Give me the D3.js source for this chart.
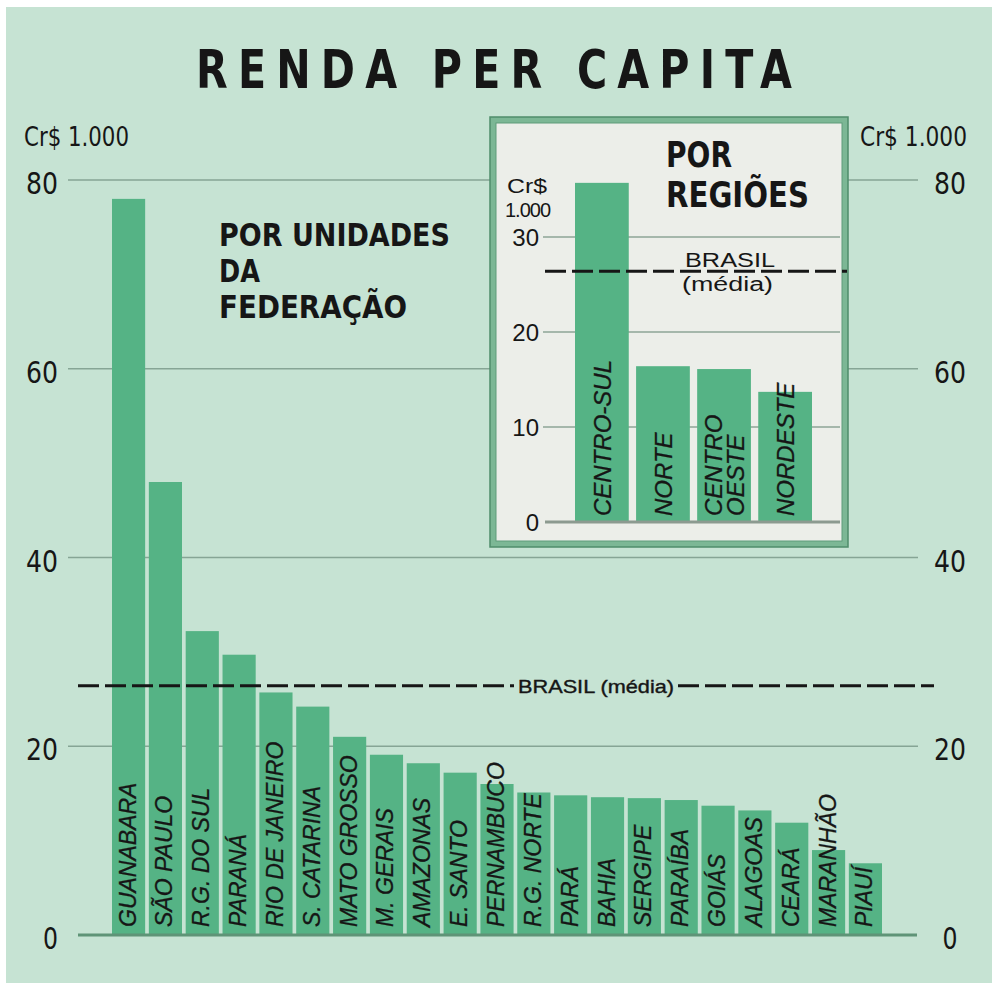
<!DOCTYPE html>
<html>
<head>
<meta charset="utf-8">
<script src="https://cdnjs.cloudflare.com/ajax/libs/d3/7.8.5/d3.min.js"></script>
<style>
  body { margin: 0; background: #ffffff; }
  svg { display: block; }
  .cond { font-family: "DejaVu Sans Condensed", "DejaVu Sans", sans-serif; font-stretch: condensed; }
</style>
</head>
<body>
<script>

// dados por unidades da federacao (Cr$ 1.000)
var states = ["GUANABARA", "SÃO PAULO", "R.G. DO SUL", "PARANÁ", "RIO DE JANEIRO",
              "S. CATARINA", "MATO GROSSO", "M. GERAIS", "AMAZONAS", "E. SANTO",
              "PERNAMBUCO", "R.G. NORTE", "PARÁ", "BAHIA", "SERGIPE", "PARAÍBA",
              "GOIÁS", "ALAGOAS", "CEARÁ", "MARANHÃO", "PIAUÍ"];
var stateValues = [78, 48, 32.2, 29.7, 25.7, 24.2, 21.0, 19.1, 18.2, 17.2,
                   16.0, 15.1, 14.8, 14.6, 14.5, 14.3, 13.7, 13.2, 11.9, 9.0, 7.6];

// dados por regioes
var regions = ["CENTRO-SUL", "NORTE", "CENTRO OESTE", "NORDESTE"];
var regionValues = [35.7, 16.4, 16.1, 13.7];

var brasilMedia = 26.4;

var mainTicks = [0, 20, 40, 60, 80];
var insetTicks = [0, 10, 20, 30];

var width = 992, height = 983;
var bg = "#c6e3d3", barColor = "#55b385", ink = "#161616";

var svg = d3.select("body").append("svg")
    .attr("width", width)
    .attr("height", height);

// paper
svg.append("rect").attr("x", 0).attr("y", 0).attr("width", width).attr("height", height).attr("fill", "#fff");
svg.append("rect").attr("x", 6).attr("y", 7).attr("width", width - 6).attr("height", height - 7).attr("fill", bg);

var x = d3.scaleBand().domain(states).range([112, 882]).paddingInner(0.1);
var y = d3.scaleLinear().domain([0, 80]).range([935, 180]);

// gridlines
svg.append("g").selectAll("line")
    .data(mainTicks.filter(function(d){ return d > 0; }))
    .enter().append("line")
    .attr("x1", 68).attr("x2", 918)
    .attr("y1", function(d){ return y(d); })
    .attr("y2", function(d){ return y(d); })
    .attr("stroke", "#86a595")
    .attr("stroke-width", 1.5);

// left and right tick labels
function tickLabels(xpos, anchor) {
    svg.append("g").selectAll("text")
        .data(mainTicks)
        .enter().append("text")
        .attr("class", "cond")
        .attr("x", xpos).attr("y", function(d){ return y(d) + 14; })
        .attr("text-anchor", anchor)
        .attr("font-size", 31)
        .attr("textLength", function(d){ return d < 10 ? 15 : 32; })
        .attr("lengthAdjust", "spacingAndGlyphs")
        .attr("fill", ink)
        .text(function(d){ return d; });
}
tickLabels(58, "end");
tickLabels(950, "middle");

svg.append("text").attr("class", "cond").attr("x", 24).attr("y", 146)
    .attr("font-size", 27)
    .attr("fill", ink).attr("textLength", 105).attr("lengthAdjust", "spacingAndGlyphs")
    .text("Cr$ 1.000");
svg.append("text").attr("class", "cond").attr("x", 860).attr("y", 146)
    .attr("font-size", 27)
    .attr("fill", ink).attr("textLength", 107).attr("lengthAdjust", "spacingAndGlyphs")
    .text("Cr$ 1.000");

// bars
svg.append("g").selectAll("rect")
    .data(states)
    .enter().append("rect")
    .attr("x", function(d){ return x(d); })
    .attr("y", function(d, i){ return y(stateValues[i]); })
    .attr("width", x.bandwidth())
    .attr("height", function(d, i){ return y(0) - y(stateValues[i]); })
    .attr("fill", barColor);

// baseline
svg.append("line")
    .attr("x1", 78).attr("x2", 917)
    .attr("y1", y(0)).attr("y2", y(0))
    .attr("stroke", "#5f9477").attr("stroke-width", 3);

// bar labels
svg.append("g").selectAll("text")
    .data(states)
    .enter().append("text")
    .attr("transform", function(d){
        return "translate(" + (x(d) + x.bandwidth() / 2 + 7) + "," + (y(0) - 8) + ") rotate(-90)";
    })
    .attr("font-family", "Liberation Sans")
    .attr("font-style", "italic")
    .attr("font-size", 23)
    .attr("stroke", ink).attr("stroke-width", 0.3)
    .attr("fill", ink)
    .text(function(d){ return d; });

// brasil media line (main)
svg.append("text")
    .attr("x", 518).attr("y", y(brasilMedia) + 7)
    .attr("font-family", "Liberation Sans")
    .attr("font-size", 19)
    .attr("stroke", ink).attr("stroke-width", 0.4)
    .attr("fill", ink)
    .attr("textLength", 156).attr("lengthAdjust", "spacingAndGlyphs")
    .text("BRASIL (média)");

svg.append("line")
    .attr("x1", 78).attr("x2", 514)
    .attr("y1", y(brasilMedia)).attr("y2", y(brasilMedia))
    .attr("stroke", ink).attr("stroke-width", 3).attr("stroke-dasharray", "21,6");
svg.append("line")
    .attr("x1", 678).attr("x2", 934)
    .attr("y1", y(brasilMedia)).attr("y2", y(brasilMedia))
    .attr("stroke", ink).attr("stroke-width", 3).attr("stroke-dasharray", "21,6");

// titles
svg.append("text").attr("class", "cond").attr("x", 196).attr("y", 88)
    .attr("font-weight", "bold")
    .attr("font-size", 54).attr("fill", ink)
    .attr("letter-spacing", 12)
    .attr("textLength", 606).attr("lengthAdjust", "spacingAndGlyphs")
    .text("RENDA PER CAPITA");

var fedLines = ["POR UNIDADES", "DA", "FEDERAÇÃO"];
var fedWidths = [231, 41, 188];
svg.append("g").selectAll("text")
    .data(fedLines)
    .enter().append("text")
    .attr("class", "cond")
    .attr("x", 219)
    .attr("y", function(d, i){ return 246 + i * 36; })
    .attr("font-weight", "bold")
    .attr("font-size", 32)
    .attr("textLength", function(d, i){ return fedWidths[i]; })
    .attr("lengthAdjust", "spacingAndGlyphs")
    .attr("fill", ink)
    .text(function(d){ return d; });

// ---- inset: por regioes ----
var inset = svg.append("g");
inset.append("rect")
    .attr("x", 493).attr("y", 120).attr("width", 352).attr("height", 424)
    .attr("fill", "#eceee9")
    .attr("stroke", "#7cb795").attr("stroke-width", 6);
inset.append("rect")
    .attr("x", 490).attr("y", 117).attr("width", 358).attr("height", 430)
    .attr("fill", "none")
    .attr("stroke", "#4f8d6b").attr("stroke-width", 1.5);
inset.append("rect")
    .attr("x", 496).attr("y", 123).attr("width", 346).attr("height", 418)
    .attr("fill", "none")
    .attr("stroke", "#5f9c7a").attr("stroke-width", 1);

var xr = d3.scaleBand().domain(regions).range([575, 812]).paddingInner(0.12);
var yr = d3.scaleLinear().domain([0, 30]).range([522, 237]);

inset.append("g").selectAll("line")
    .data(insetTicks.filter(function(d){ return d > 0; }))
    .enter().append("line")
    .attr("x1", 543).attr("x2", 840)
    .attr("y1", function(d){ return yr(d); })
    .attr("y2", function(d){ return yr(d); })
    .attr("stroke", "#8ea596").attr("stroke-width", 1.5);

inset.append("g").selectAll("text")
    .data(insetTicks)
    .enter().append("text")
    .attr("x", 539).attr("y", function(d){ return yr(d) + 9; })
    .attr("text-anchor", "end")
    .attr("font-family", "Liberation Sans")
    .attr("font-size", 24)
    .attr("fill", ink)
    .text(function(d){ return d; });

inset.append("text").attr("x", 507).attr("y", 193)
    .attr("font-family", "Liberation Sans").attr("font-size", 20).attr("fill", ink)
    .attr("textLength", 40).attr("lengthAdjust", "spacingAndGlyphs")
    .text("Cr$");
inset.append("text").attr("x", 505).attr("y", 217)
    .attr("font-family", "Liberation Sans").attr("font-size", 20).attr("fill", ink)
    .attr("letter-spacing", -1)
    .text("1.000");

inset.append("g").selectAll("rect")
    .data(regions)
    .enter().append("rect")
    .attr("x", function(d){ return xr(d); })
    .attr("y", function(d, i){ return yr(regionValues[i]); })
    .attr("width", xr.bandwidth())
    .attr("height", function(d, i){ return yr(0) - yr(regionValues[i]); })
    .attr("fill", barColor);

inset.append("line")
    .attr("x1", 545).attr("x2", 840)
    .attr("y1", yr(0)).attr("y2", yr(0))
    .attr("stroke", "#8c9a90").attr("stroke-width", 3);

// region labels, CENTRO OESTE on two columns
regions.forEach(function(d){
    var parts = d.split(" ");
    var cx = xr(d) + xr.bandwidth() / 2;
    parts.forEach(function(p, j){
        var off = parts.length > 1 ? (j === 0 ? -2 : 20) : 9;
        inset.append("text")
            .attr("transform", "translate(" + (cx + off) + "," + (yr(0) - 6) + ") rotate(-90)")
            .attr("font-family", "Liberation Sans")
            .attr("font-style", "italic")
            .attr("font-size", 24)
            .attr("stroke", ink).attr("stroke-width", 0.3)
            .attr("fill", ink)
            .text(p);
    });
});

inset.append("line")
    .attr("x1", 545).attr("x2", 847)
    .attr("y1", yr(brasilMedia)).attr("y2", yr(brasilMedia))
    .attr("stroke", ink).attr("stroke-width", 3).attr("stroke-dasharray", "21,6");
inset.append("text").attr("x", 685).attr("y", yr(brasilMedia) - 4)
    .attr("font-family", "Liberation Sans").attr("font-size", 20).attr("fill", ink)
    .attr("textLength", 90).attr("lengthAdjust", "spacingAndGlyphs")
    .text("BRASIL");
inset.append("text").attr("x", 682).attr("y", yr(brasilMedia) + 20)
    .attr("font-family", "Liberation Sans").attr("font-size", 20).attr("fill", ink)
    .attr("textLength", 91).attr("lengthAdjust", "spacingAndGlyphs")
    .text("(média)");

var regWidths = [66, 143];
inset.selectAll("text.reg")
    .data(["POR", "REGIÕES"])
    .enter().append("text")
    .attr("class", "reg cond")
    .attr("x", 666)
    .attr("y", function(d, i){ return 167 + i * 40; })
    .attr("font-weight", "bold")
    .attr("font-size", 35)
    .attr("textLength", function(d, i){ return regWidths[i]; })
    .attr("lengthAdjust", "spacingAndGlyphs")
    .attr("fill", ink)
    .text(function(d){ return d; });

</script>
</body>
</html>
